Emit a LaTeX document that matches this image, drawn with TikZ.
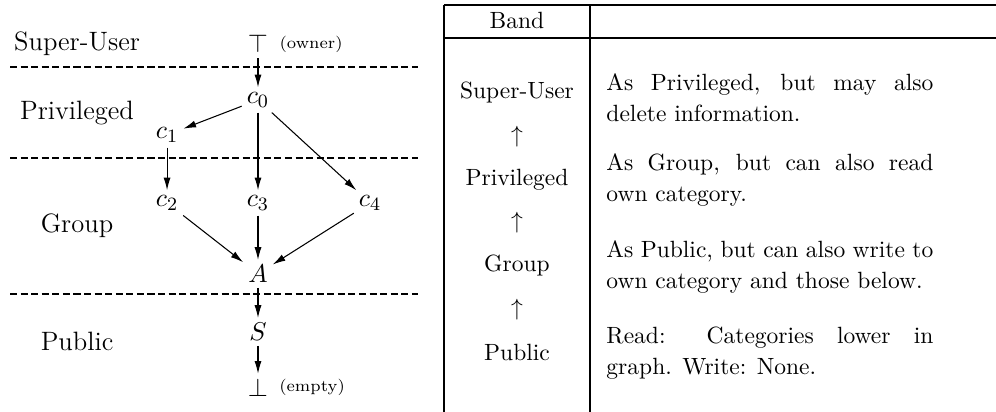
\documentclass[tikz,border=0pt]{standalone}
\usepackage{amsmath, amssymb}
\usetikzlibrary{positioning, arrows.meta}

\tikzset{
  band/.style={inner sep=0pt, font=\fontsize{11.3}{13}\selectfont},
  cat/.style={inner sep=2pt, font=\fontsize{11}{13}\selectfont},
  note/.style={inner sep=0pt, font=\scriptsize},
  arr/.style={-{Latex[length=5.4pt,width=3pt]}, line width=0.45pt},
  bandrule/.style={dashed, dash pattern=on 3pt off 1.5pt, line width=0.45pt},
  tabrule/.style={line width=0.55pt},
  row/.style={inner sep=0pt, font=\fontsize{10}{12}\selectfont},
  desc/.style={inner sep=0pt, anchor=west, text width=139.1pt, align=justify,
    font=\fontsize{10}{13.2}\selectfont},
}

\begin{document}
\begin{tikzpicture}[x=0.4255pt, y=-0.4255pt, node distance=1cm, on grid]
  \useasboundingbox (0,0) rectangle (996,412);

  % lattice of categories
  \node[cat] (top) at (258,44) {$\top$};
  \node[cat, below=23.8pt of top] (c0) {$c_0$};
  \node[cat, below left=14.9pt and 38.7pt of c0] (c1) {$c_1$};
  \node[cat, below=28.9pt of c1] (c2) {$c_2$};
  \node[cat, below=43.8pt of c0] (c3) {$c_3$};
  \node[cat, right=47.7pt of c3] (c4) {$c_4$};
  \node[cat, below=30.2pt of c3] (A) {$A$};
  \node[cat, below=24.7pt of A] (S) {$S$};
  \node[cat, below=23.8pt of S] (bot) {$\bot$};
  \node[note, right=22.6pt of top] (owner) {(owner)};
  \node[note, right=23pt of bot] (empty) {(empty)};

  % band names
  \node[band, left=77pt of top] (su) {Super-User};
  \node[band, below=29.4pt of su] (pr) {Privileged};
  \node[band, below=48.1pt of pr] (gr) {Group};
  \node[band, below=48.9pt of gr] (pu) {Public};

  % band boundaries
  \draw[bandrule] (10,67) -- (418,67);
  \draw[bandrule] (10,158) -- (418,158);
  \draw[bandrule] (10,294) -- (418,294);

  \draw[arr] (top) -- (c0);
  \draw[arr] (c0) -- (c1);
  \draw[arr] (c0) -- (c3);
  \draw[arr] (c0) -- (c4);
  \draw[arr] (c1) -- (c2);
  \draw[arr] (c2) -- (A);
  \draw[arr] (c3) -- (A);
  \draw[arr] (c4) -- (A);
  \draw[arr] (A) -- (S);
  \draw[arr] (S) -- (bot);

  % table of bands
  \draw[tabrule] (444,5) -- (996,5);
  \draw[tabrule] (444,38) -- (996,38);
  \draw[tabrule] (444,5) -- (444,412);
  \draw[tabrule] (590,5) -- (590,412);

  \node[row] (hband) at (517,20) {Band};
  \node[row] (tsu) at (517,93) {Super-User};
  \node[row, below=18.4pt of tsu] (up1) {$\uparrow$};
  \node[row, below=18.4pt of up1] (tpr) {Privileged};
  \node[row, below=18.4pt of tpr] (up2) {$\uparrow$};
  \node[row, below=18.4pt of up2] (tgr) {Group};
  \node[row, below=18.4pt of tgr] (up3) {$\uparrow$};
  \node[row, below=18.4pt of up3] (tpu) {Public};

  \node[desc] (dsu) at (606,97.5) {As Privileged, but may also\linebreak delete information.};
  \node[desc] (dpr) at (606,180) {As Group, but can also read\linebreak own category.};
  \node[desc] (dgr) at (606,267.5) {As Public, but can also write to\linebreak own category and those below.};
  \node[desc] (dpu) at (606,353) {Read: Categories lower in\linebreak graph. Write: None.};
\end{tikzpicture}
\end{document}
